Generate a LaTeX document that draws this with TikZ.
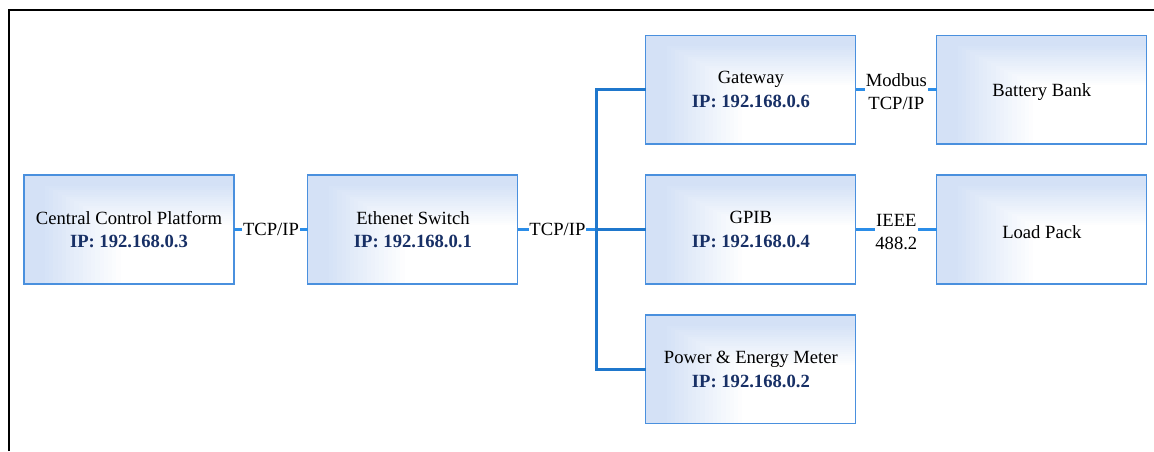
\documentclass[tikz,border=0pt]{standalone}
\usepackage{fontspec}
\setmainfont{Liberation Serif}
\usepackage{xcolor}
\usepackage{tikz}
\usetikzlibrary{positioning,calc}
\definecolor{boxline}{RGB}{74,144,222}
\definecolor{band}{RGB}{212,225,246}
\definecolor{ipnavy}{RGB}{24,48,102}
\definecolor{stubblue}{RGB}{43,141,232}
\definecolor{busblue}{RGB}{31,119,204}
\newcommand{\ipaddr}[1]{{\color{ipnavy}\bfseries IP: #1}}
\tikzset{
  dev/.style   ={draw=boxline,line width=0.6pt,minimum width=4.2cm,minimum height=2.18cm,outer sep=0pt,align=center,font=\fontsize{10.6}{13.4}\selectfont,
    execute at begin node={\rule{0pt}{10pt}},
    path picture={
      \foreach \i [evaluate=\i as \pct using {max(0,min(100,(23-\i)*100/19))}] in {0,...,24}
        \fill[band!\pct!white] ($(path picture bounding box.north west)!\i/50!(path picture bounding box.south east)$) rectangle (path picture bounding box.south east);}},
  lnk/.style   ={draw=stubblue,line width=1.4pt},
  trunk/.style ={draw=busblue,line width=1.7pt},
  lbl/.style   ={fill=white,inner xsep=0.4pt,inner ysep=1pt,align=center,font=\fontsize{10.6}{13}\selectfont},
  frame/.style ={draw=black,line width=0.85pt},
}
\begin{document}
\begin{tikzpicture}[x=0.02cm,y=-0.02cm,node distance=6.2mm and 14.8mm]
\useasboundingbox (0,0) rectangle (1154,451);
\draw[frame] (9,451) -- (9,10) -- (1154,10);
\node[dev] (ccp) at (129,229.5) {Central Control Platform\\ \ipaddr{192.168.0.3}};
\node[dev,right=of ccp] (sw) {Ethenet Switch\\ \ipaddr{192.168.0.1}};
\node[dev,right=25.6mm of sw] (gpib) {GPIB\\ \ipaddr{192.168.0.4}};
\node[dev,above=of gpib] (gw) {Gateway\\ \ipaddr{192.168.0.6}};
\node[dev,below=of gpib] (pem) {Power \& Energy Meter\\ \ipaddr{192.168.0.2}};
\node[dev,right=16.2mm of gw] (bat) {Battery Bank};
\node[dev,right=16.2mm of gpib] (load) {Load Pack};
\coordinate (bus) at ($(sw.east)+(15.8mm,0)$);
\draw[lnk] (ccp) -- node[lbl]{TCP/IP} (sw);
\draw[lnk] (sw) -- node[lbl]{TCP/IP} (bus);
\draw[trunk] (gw.west) -| (bus) |- (pem.west);
\draw[trunk] (bus) -- (gpib);
\draw[lnk] (gw) -- node[lbl,yshift=-1.2pt]{Modbus\\TCP/IP} (bat);
\draw[lnk] (gpib) -- node[lbl,yshift=-1.2pt]{IEEE\\488.2} (load);
\end{tikzpicture}
\end{document}
